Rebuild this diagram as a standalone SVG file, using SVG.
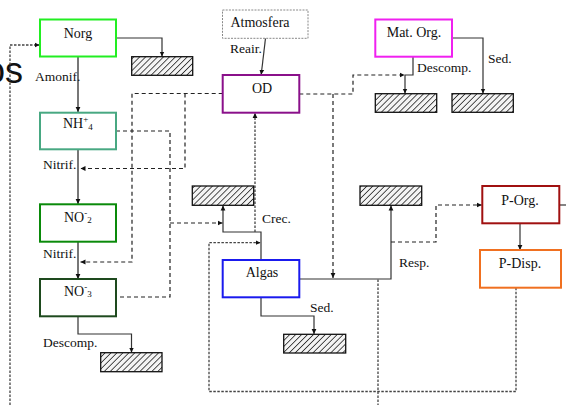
<svg xmlns="http://www.w3.org/2000/svg" width="566" height="405" viewBox="0 0 566 405">
  <style>
    .node { fill: #ffffff; stroke-width: 2; }
    .sink { fill: url(#hatch); stroke: #111; stroke-width: 1.3; }
    .t { font-family: "Liberation Serif", "Times New Roman", serif; font-size: 14px; fill: #111; }
    .lbl { font-family: "Liberation Serif", "Times New Roman", serif; font-size: 13.5px; fill: #111; }
    .solid { fill: none; stroke: #333; stroke-width: 1.2; }
    .stem { fill: none; stroke: #555; stroke-width: 1.6; }
    .dash { fill: none; stroke: #222; stroke-width: 1.2; stroke-dasharray: 4 3; }
    .dot { fill: none; stroke: #444; stroke-width: 1.3; stroke-dasharray: 2.5 1.5; }
  </style>
  <defs>
    <pattern id="hatch" patternUnits="userSpaceOnUse" width="4.2" height="4.2" patternTransform="rotate(45)">
      <rect width="4.2" height="4.2" fill="#f4f4f4"/>
      <line x1="0" y1="0" x2="0" y2="4.2" stroke="#333" stroke-width="1.7"/>
    </pattern>
    <marker id="arr" markerUnits="userSpaceOnUse" markerWidth="6" markerHeight="6" refX="5" refY="3" orient="auto">
      <path d="M0,0.6 L5,3 L0,5.4 z" fill="#111"/>
    </marker>
  </defs>

  <!-- large title fragment at the left edge -->
  <text x="-15" y="83" font-family="'Liberation Sans', Arial, sans-serif" font-size="36" fill="#111">os</text>

  <!-- connectors -->
  <g id="connectors">
    <!-- nitrogen chain -->
    <path class="solid" d="M116,38 H162 V56.5" marker-end="url(#arr)"/>
    <path class="stem" d="M78,56.7 V112" marker-end="url(#arr)"/>
    <path class="stem" d="M78,149.3 V204" marker-end="url(#arr)"/>
    <path class="stem" d="M78,241.7 V279" marker-end="url(#arr)"/>
    <path class="solid" d="M78,316.3 V334 H131.5 V352.5" marker-end="url(#arr)"/>

    <!-- reaeration -->
    <path class="solid" d="M265.5,38.3 L261.2,74.8" marker-end="url(#arr)"/>

    <!-- organic matter -->
    <path class="solid" d="M413,56.7 V75 H405 V93.5" marker-end="url(#arr)"/>
    <path class="solid" d="M452,38 H483 V93.5" marker-end="url(#arr)"/>

    <!-- algae -->
    <path class="solid" d="M261,260 V232 H223 V205.5" marker-end="url(#arr)"/>
    <path class="solid" d="M261,297.3 V316 H314 V334" marker-end="url(#arr)"/>
    <path class="solid" d="M299.3,279 H391 V205.5" marker-end="url(#arr)"/>
    <path class="solid" d="M559.3,205 H566"/>
    <path class="solid" d="M520,223.3 V250" marker-end="url(#arr)"/>

    <!-- dissolved oxygen links -->
    <path class="dash" d="M222.7,93.5 H132 V262 H80.5" marker-end="url(#arr)"/>
    <path class="dash" d="M185,93.5 V168.5 H80.5" marker-end="url(#arr)"/>
    <path class="dash" d="M299.3,94 H353 V75 H404.5" marker-end="url(#arr)"/>
    <path class="dash" d="M333,94 V278" marker-end="url(#arr)"/>
    <path class="dot" d="M255,232 V113" marker-end="url(#arr)"/>

    <!-- nutrient uptake -->
    <path class="dash" d="M116,131 H170 V297 H116"/>
    <path class="dash" d="M170,223 H222.5" marker-end="url(#arr)"/>

    <!-- phosphorus -->
    <path class="dash" d="M391,242 H436 V205 H481.8" marker-end="url(#arr)"/>
    <path class="dot" d="M516,287.7 V391.5 H209 V242.7 H260.5" marker-end="url(#arr)"/>
    <path class="dot" d="M378,279.5 V405"/>

    <!-- return to organic nitrogen -->
    <path class="dot" d="M10,405 V45 H39.5" marker-end="url(#arr)"/>
  </g>

  <!-- sinks -->
  <g id="sinks">
    <rect class="sink" x="131.7" y="56.7" width="61" height="18.6"/>
    <rect class="sink" x="100.7" y="352.7" width="61.3" height="19"/>
    <rect class="sink" x="375.3" y="93.7" width="61.4" height="18.6"/>
    <rect class="sink" x="452" y="93.7" width="61.3" height="18.6"/>
    <rect class="sink" x="192.3" y="186" width="61.4" height="19.3"/>
    <rect class="sink" x="360" y="186" width="61.7" height="19.3"/>
    <rect class="sink" x="283.7" y="334.3" width="62" height="18.7"/>
  </g>

  <g id="norg">
    <rect class="node" x="40" y="19.5" width="76" height="37" stroke="#22ee22"/>
    <text class="t" x="78" y="37.5" text-anchor="middle">Norg</text>
  </g>
  <g id="nh4">
    <rect class="node" x="40" y="112.7" width="76" height="36.6" stroke="#48a882"/>
    <text class="t" x="63" y="128">NH<tspan font-size="9" dy="-6">+</tspan><tspan font-size="9" dy="8">4</tspan></text>
  </g>
  <g id="no2">
    <rect class="node" x="40" y="204.3" width="76" height="37.4" stroke="#0a8a0a"/>
    <text class="t" x="64" y="221.5">NO<tspan font-size="9" dy="-6">-</tspan><tspan font-size="9" dy="7">2</tspan></text>
  </g>
  <g id="no3">
    <rect class="node" x="40" y="279" width="76" height="37.3" stroke="#1e4a1e"/>
    <text class="t" x="64" y="296">NO<tspan font-size="9" dy="-6">-</tspan><tspan font-size="9" dy="7">3</tspan></text>
  </g>
  <g id="atmosfera">
    <rect x="222.5" y="10" width="85.5" height="28.3" fill="#fff" stroke="#888" stroke-width="1" stroke-dasharray="2 1.2"/>
    <text class="t" x="260" y="27" text-anchor="middle">Atmosfera</text>
  </g>
  <g id="od">
    <rect class="node" x="222.7" y="75" width="76.6" height="37.7" stroke="#8a108a"/>
    <text class="t" x="262" y="92.5" text-anchor="middle">OD</text>
  </g>
  <g id="matorg">
    <rect class="node" x="375.3" y="19.5" width="76.7" height="37.2" stroke="#f020f0"/>
    <text class="t" x="414" y="37" text-anchor="middle">Mat. Org.</text>
  </g>
  <g id="algas">
    <rect class="node" x="222.7" y="260" width="76.6" height="37.3" stroke="#1a1aee"/>
    <text class="t" x="262" y="277" text-anchor="middle">Algas</text>
  </g>
  <g id="porg">
    <rect class="node" x="482.3" y="186" width="77" height="37.3" stroke="#a01010"/>
    <text class="t" x="520" y="205" text-anchor="middle">P-Org.</text>
  </g>
  <g id="pdisp">
    <rect class="node" x="480" y="250" width="81" height="37.7" stroke="#f07020"/>
    <text class="t" x="520" y="268" text-anchor="middle">P-Disp.</text>
  </g>

  <!-- process labels -->
  <g id="labels">
    <text class="lbl" x="35" y="81">Amonif.</text>
    <text class="lbl" x="43" y="169">Nitrif.</text>
    <text class="lbl" x="43" y="258">Nitrif.</text>
    <text class="lbl" x="43" y="347">Descomp.</text>
    <text class="lbl" x="230" y="53">Reair.</text>
    <text class="lbl" x="417" y="72">Descomp.</text>
    <text class="lbl" x="488" y="63">Sed.</text>
    <text class="lbl" x="262" y="223">Crec.</text>
    <text class="lbl" x="399" y="267">Resp.</text>
    <text class="lbl" x="310" y="312">Sed.</text>
  </g>
</svg>
